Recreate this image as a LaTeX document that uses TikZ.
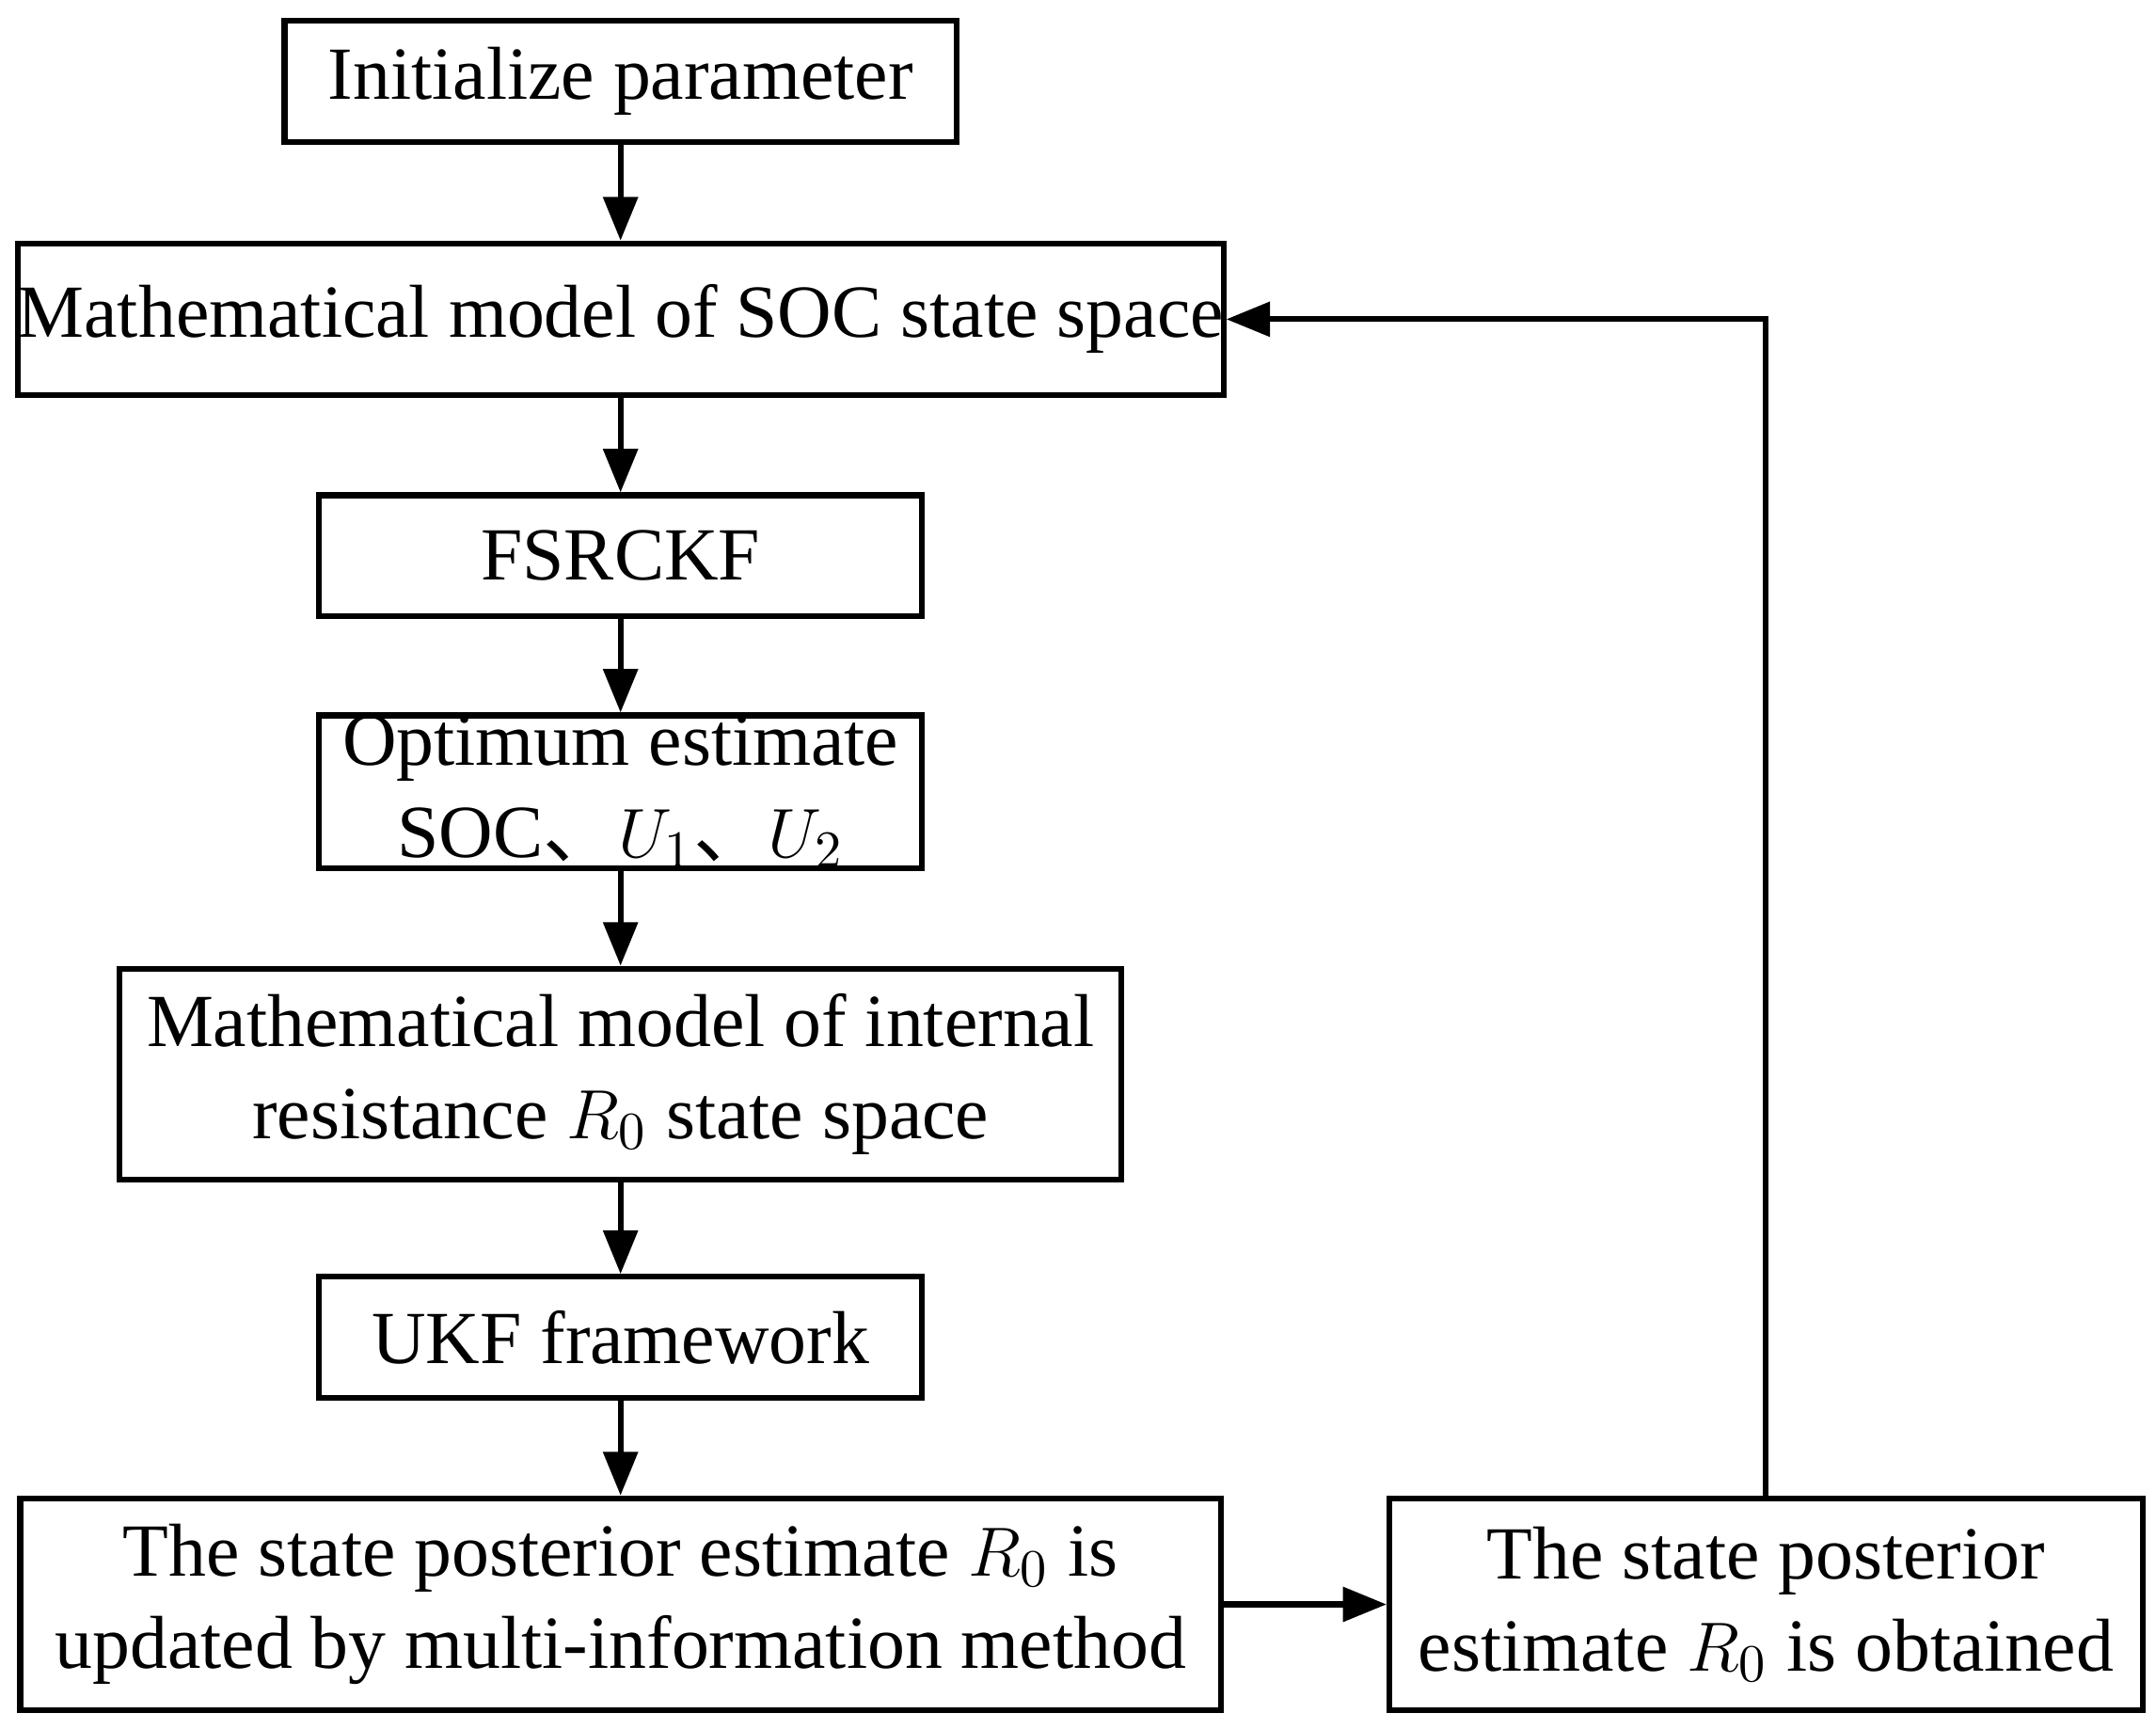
\documentclass[tikz,border=0pt]{standalone}
\usepackage{fontspec}
\setmainfont{Liberation Serif}
\newfontfamily\cjk{Noto Sans CJK SC}
\usetikzlibrary{arrows.meta}
\begin{document}
\begin{tikzpicture}[x=0.01cm,y=-0.01cm,
  box/.style={draw,line width=1.2pt,align=center,inner sep=0pt,font=\fontsize{15.5}{19}\selectfont},
  arr/.style={line width=1.2pt,-{Triangle[length=9pt,width=7pt]}}]
\useasboundingbox (0,0) rectangle (1567,1256);
\node[box,minimum width=488\pgflinewidth*0+4.88cm,minimum height=0.88cm] (a) at (451,59) {Initialize parameter};
\node[box,minimum width=8.72cm,minimum height=1.10cm] (b) at (451,232) {Mathematical model of SOC state space};
\node[box,minimum width=4.38cm,minimum height=0.88cm] (c) at (451,404) {FSRCKF};
\node[box,minimum width=4.38cm,minimum height=1.11cm] (d) at (451,575.5) {Optimum estimate\\SOC{\cjk 、}$U_1${\cjk 、}$U_2$};
\node[box,minimum width=7.28cm,minimum height=1.53cm] (e) at (451,780.5) {Mathematical model of internal\\resistance $R_0$ state space};
\node[box,minimum width=4.38cm,minimum height=0.88cm] (f) at (451,972) {UKF framework};
\node[box,minimum width=8.72cm,minimum height=1.54cm] (g) at (451,1166) {The state posterior estimate $R_0$ is\\updated by multi-information method};
\node[box,minimum width=5.47cm,minimum height=1.54cm] (h) at (1283.5,1166) {The state posterior\\estimate $R_0$ is obtained};
\draw[arr] (a) -- (b);
\draw[arr] (b) -- (c);
\draw[arr] (c) -- (d);
\draw[arr] (d) -- (e);
\draw[arr] (e) -- (f);
\draw[arr] (f) -- (g);
\draw[arr] (g) -- (h);
\draw[arr] (h.north) |- (b.east);
\end{tikzpicture}
\end{document}
